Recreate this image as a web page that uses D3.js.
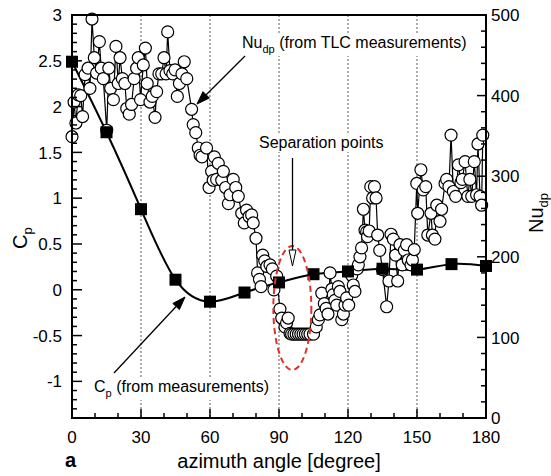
<!DOCTYPE html>
<html>
<head>
<meta charset="utf-8">
<script src="https://cdn.jsdelivr.net/npm/d3@7"></script>
<style>
  body { margin: 0; background: #fff; }
  text { font-family: "Liberation Sans", Arial, sans-serif; fill: #000; }
</style>
</head>
<body>
<svg id="chart" width="551" height="476"></svg>
<script>
// pressure coefficient (filled squares)
const cpAngle = [0, 15, 30, 45, 60, 75, 90, 105, 120, 135, 150, 165, 180];
const cpValue = [2.49, 1.72, 0.88, 0.11, -0.13, -0.03, 0.08, 0.17, 0.2, 0.23, 0.22, 0.28, 0.26];

// Nusselt number from TLC (open circles)
const nuAngle = [
  0, 0.9, 1.7, 2.7, 3.8, 4.6, 5.7, 7, 7.8, 8.7, 9.7, 10.7, 11.9, 12.7, 13.6, 15.1, 16, 16.8, 18, 19.1,
  20.1, 20.9, 21.9, 23, 23.8, 24.9, 25.9, 27, 28.1, 28.8, 29.8, 31, 31.9, 32.7, 33.9, 34.9, 36.1, 36.8, 37.8, 39,
  40, 40.9, 41.6, 42.6, 43.8, 44.8, 45.8, 46.7, 47.8, 48.8, 49.9, 52, 52.7, 53.8, 54.9, 55.7, 56.5, 58.5, 59.6, 60.7,
  61.4, 61.9, 62.9, 63.6, 65.1, 65.8, 66.8, 68, 68.7, 70.1, 71.2, 72.3, 73.8, 74.9, 75.9, 77, 78.1, 78.8, 80, 80.7,
  81.5, 82.2, 82.9, 83.8, 84.7, 86.1, 87.1, 87.8, 89, 90.4, 91.2, 92.6, 93.3, 94, 94.8, 95.5, 96.5, 97.5, 98.5, 99.5,
  100.5, 101.5, 102.5, 103.5, 105, 106.2, 107.1, 107.8, 108.6, 109.7, 110.5, 111.3, 112.2, 113, 113.6, 114.3, 115.1, 115.8, 116.5, 117.3,
  118, 118.7, 119.4, 120.3, 121.6, 122.3, 123, 124, 124.5, 125.2, 125.9, 126.7, 127.4, 128.1, 128.5, 129.2, 129.9, 130.7, 131.5, 132.2,
  132.9, 133.8, 135, 136.8, 137.8, 138.7, 139.7, 140.7, 141.6, 142.6, 143.6, 144.5, 145.5, 146.2, 147.4, 148, 148.8, 149.9, 150.3, 151.7,
  152.7, 153.8, 154.7, 156.1, 156.7, 157.8, 158.6, 160, 160.7, 162.2, 162.9, 163.9, 164.8, 165.8, 166.8, 168, 169.1, 169.7, 170.9, 172.1,
  173, 173.8, 174.9, 175.9, 176.5, 177.4, 178.1, 178.6
];
const nuValue = [
  349, 392, 366, 401, 400, 374, 426, 434, 409, 495, 447, 428, 467, 434, 421, 357, 434, 409, 395, 461,
  415, 447, 421, 415, 384, 377, 389, 421, 434, 447, 395, 438, 459, 415, 392, 399, 373, 405, 427, 427,
  447, 427, 479, 431, 427, 432, 399, 415, 427, 442, 421, 383, 364, 354, 335, 326, 324, 335, 286, 306,
  295, 324, 296, 316, 295, 306, 286, 266, 277, 296, 286, 275, 254, 242, 258, 250, 252, 242, 223, 180,
  172, 163, 202, 195, 188, 190, 185, 159, 176, 135, 124, 113, 118, 124, 105, 104, 104, 104, 104, 104,
  104, 104, 104, 104, 104, 113, 122, 128, 155, 142, 136, 129, 180, 160, 153, 146, 140, 163, 157, 122,
  129, 140, 149, 140, 177, 165, 157, 185, 190, 200, 211, 259, 233, 231, 225, 232, 287, 273, 287, 273,
  227, 208, 184, 138, 170, 228, 222, 202, 170, 215, 190, 208, 215, 196, 190, 196, 209, 291, 254, 308,
  283, 287, 227, 254, 227, 222, 264, 244, 259, 291, 296, 287, 351, 281, 275, 314, 292, 296, 318, 275,
  296, 275, 318, 277, 340, 275, 264, 351
];

const xTicks = [0, 30, 60, 90, 120, 150, 180];
const cpTicks = [-1, -0.5, 0, 0.5, 1, 1.5, 2, 2.5, 3];
const nuTicks = [0, 100, 200, 300, 400, 500];
const gridAngles = [30, 60, 90, 120, 150];

const plotLeft = 72, plotRight = 486, plotTop = 15, plotBottom = 418;

const svg = d3.select("#chart");

const x = d3.scaleLinear().domain([0, 180]).range([plotLeft, plotRight]);
const yCp = d3.scaleLinear().domain([-1.4, 3]).range([plotBottom, plotTop]);
const yNu = d3.scaleLinear().domain([0, 500]).range([plotBottom, plotTop]);

// dotted verticals
svg.selectAll(".grid")
  .data(gridAngles)
  .join("line")
  .attr("x1", d => x(d)).attr("x2", d => x(d))
  .attr("y1", plotTop).attr("y2", plotBottom)
  .attr("stroke", "#888")
  .attr("stroke-width", 1.4)
  .attr("stroke-dasharray", "2,2");

// labels with white boxes (they cut the dotted lines)
function label(xp, yp, main, sub, rest) {
  const g = svg.append("g");
  const t = g.append("text").attr("x", xp).attr("y", yp).attr("font-size", 16);
  t.append("tspan").text(main);
  t.append("tspan").attr("font-size", 11).attr("dy", 5).text(sub);
  t.append("tspan").attr("dy", -5).text(rest);
  const b = t.node().getBBox();
  g.insert("rect", "text")
    .attr("x", b.x - 2).attr("y", b.y - 1)
    .attr("width", b.width + 4).attr("height", b.height + 2)
    .attr("fill", "#fff");
}
label(242, 48, "Nu", "dp", " (from TLC measurements)");
label(94, 392, "C", "p", " (from measurements)");

const sep = svg.append("g");
const sepText = sep.append("text").attr("x", 259).attr("y", 148).attr("font-size", 16).text("Separation points");
const sb = sepText.node().getBBox();
sep.insert("rect", "text")
  .attr("x", sb.x - 2).attr("y", sb.y - 1)
  .attr("width", sb.width + 4).attr("height", sb.height + 2)
  .attr("fill", "#fff");

// Cp curve
const cpLine = d3.line()
  .x((d, i) => x(cpAngle[i]))
  .y(d => yCp(d))
  .curve(d3.curveNatural);
svg.append("path")
  .attr("d", cpLine(cpValue))
  .attr("fill", "none")
  .attr("stroke", "#000")
  .attr("stroke-width", 2);

// Nu series
const nuLine = d3.line()
  .x((d, i) => x(nuAngle[i]))
  .y(d => yNu(d));
svg.append("path")
  .attr("d", nuLine(nuValue))
  .attr("fill", "none")
  .attr("stroke", "#000")
  .attr("stroke-width", 1.2);

svg.selectAll(".nu")
  .data(nuValue)
  .join("circle")
  .attr("cx", (d, i) => x(nuAngle[i]))
  .attr("cy", d => yNu(d))
  .attr("r", 6)
  .attr("fill", "#fff")
  .attr("stroke", "#000")
  .attr("stroke-width", 1.2);

svg.selectAll(".cp")
  .data(cpValue)
  .join("rect")
  .attr("x", (d, i) => x(cpAngle[i]) - 6)
  .attr("y", d => yCp(d) - 6)
  .attr("width", 12)
  .attr("height", 12)
  .attr("fill", "#000");

// red dashed ellipse round the separation zone
svg.append("ellipse")
  .attr("cx", x(95.8)).attr("cy", 308)
  .attr("rx", 19).attr("ry", 62)
  .attr("fill", "none")
  .attr("stroke", "#e0302a")
  .attr("stroke-width", 2)
  .attr("stroke-dasharray", "6,4");

// arrows
function arrow(x1, y1, x2, y2, open) {
  const a = Math.atan2(y2 - y1, x2 - x1);
  const len = open ? 16 : 13, hw = open ? 3.5 : 4.5;
  const bx = x2 - len * Math.cos(a), by = y2 - len * Math.sin(a);
  const px = -Math.sin(a) * hw, py = Math.cos(a) * hw;
  svg.append("line")
    .attr("x1", x1).attr("y1", y1).attr("x2", bx).attr("y2", by)
    .attr("stroke", "#000").attr("stroke-width", 1.3);
  svg.append("polygon")
    .attr("points", [[x2, y2], [bx + px, by + py], [bx - px, by - py]].map(p => p.join(",")).join(" "))
    .attr("fill", open ? "#fff" : "#000")
    .attr("stroke", "#000").attr("stroke-width", 1);
}
arrow(245, 56, 197, 104, false);
arrow(292.5, 158, 292.5, 266, true);
arrow(114, 373, 185, 297, false);

// frame
svg.append("rect")
  .attr("x", plotLeft).attr("y", plotTop)
  .attr("width", plotRight - plotLeft).attr("height", plotBottom - plotTop)
  .attr("fill", "none").attr("stroke", "#000").attr("stroke-width", 2);

// ticks (inward)
const tk = svg.append("g").attr("stroke", "#000").attr("stroke-width", 1.5);
d3.range(0, 181, 10).forEach(v => {
  const len = v % 30 === 0 ? 9 : 5;
  tk.append("line").attr("x1", x(v)).attr("x2", x(v)).attr("y1", plotBottom).attr("y2", plotBottom - len);
});
d3.range(-14, 31, 1).forEach(k => {
  const v = k / 10;
  const len = k % 5 === 0 ? 10 : 5;
  tk.append("line").attr("x1", plotLeft).attr("x2", plotLeft + len).attr("y1", yCp(v)).attr("y2", yCp(v));
});
d3.range(0, 501, 20).forEach(v => {
  const len = v % 100 === 0 ? 9 : 5;
  tk.append("line").attr("x1", plotRight).attr("x2", plotRight - len).attr("y1", yNu(v)).attr("y2", yNu(v));
});

// tick labels
svg.selectAll(".xl")
  .data(xTicks)
  .join("text")
  .attr("x", d => x(d)).attr("y", 443)
  .attr("text-anchor", "middle").attr("font-size", 17)
  .text(d => d);
svg.selectAll(".cl")
  .data(cpTicks)
  .join("text")
  .attr("x", 62).attr("y", d => yCp(d)).attr("dy", "0.36em")
  .attr("text-anchor", "end").attr("font-size", 17)
  .text(d => d);
svg.selectAll(".nl")
  .data(nuTicks)
  .join("text")
  .attr("x", 491).attr("y", d => yNu(d)).attr("dy", "0.36em")
  .attr("font-size", 17)
  .text(d => d);

// axis titles
svg.append("text")
  .attr("x", x(90)).attr("y", 468)
  .attr("text-anchor", "middle").attr("font-size", 20)
  .text("azimuth angle [degree]");
svg.append("text")
  .attr("x", 65).attr("y", 467)
  .attr("font-size", 20).attr("font-weight", "bold")
  .text("a");

const cpT = svg.append("text")
  .attr("transform", "translate(27,249) rotate(-90)")
  .attr("font-size", 20);
cpT.append("tspan").text("C");
cpT.append("tspan").attr("font-size", 13).attr("dy", 5).text("p");

const nuT = svg.append("text")
  .attr("transform", "translate(543,233) rotate(-90)")
  .attr("font-size", 20);
nuT.append("tspan").text("Nu");
nuT.append("tspan").attr("font-size", 13).attr("dy", 5).text("dp");
</script>
</body>
</html>
